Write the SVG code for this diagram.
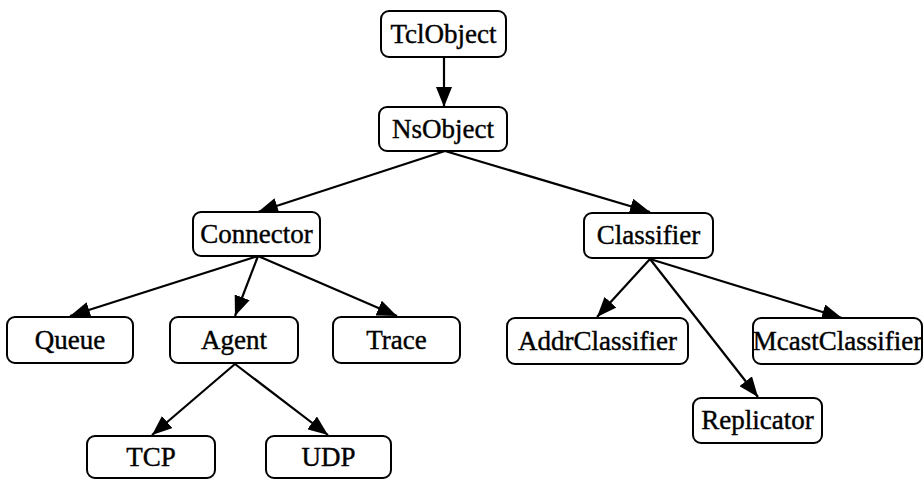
<svg xmlns="http://www.w3.org/2000/svg" width="924" height="481" viewBox="0 0 924 481">
<style>
.box{fill:#fff;stroke:#000;stroke-width:2}
.lbl{font-family:"Liberation Serif","Times New Roman",serif;font-size:27px;fill:#000;stroke:#000;stroke-width:0.4;text-anchor:middle}
.edge{stroke:#000;stroke-width:2.2;fill:none;marker-end:url(#arr)}
</style>
<defs>
<marker id="arr" markerUnits="userSpaceOnUse" markerWidth="21" markerHeight="16" refX="20" refY="8" orient="auto">
<path d="M0,0 L20,8 L0,16 Z" fill="#000"/>
</marker>
</defs>
<rect width="924" height="481" fill="#fff"/>
<g id="connectors">
<line class="edge" x1="444" y1="57" x2="444" y2="107"/>
<line class="edge" x1="445" y1="151" x2="258" y2="212"/>
<line class="edge" x1="445" y1="151" x2="650" y2="212"/>
<line class="edge" x1="258" y1="256" x2="70" y2="316"/>
<line class="edge" x1="258" y1="256" x2="235" y2="316"/>
<line class="edge" x1="258" y1="256" x2="397" y2="316"/>
<line class="edge" x1="235" y1="364" x2="152" y2="435"/>
<line class="edge" x1="235" y1="364" x2="328" y2="435"/>
<line class="edge" x1="650" y1="259" x2="597" y2="317"/>
<line class="edge" x1="650" y1="259" x2="758" y2="397"/>
<line class="edge" x1="650" y1="259" x2="842" y2="318"/>
</g>
<g id="TclObject"><rect class="box" x="381" y="11" width="125" height="46" rx="8"/><text class="lbl" x="443.5" y="43">TclObject</text></g>
<g id="NsObject"><rect class="box" x="379" y="107" width="128" height="44" rx="8"/><text class="lbl" x="443" y="138">NsObject</text></g>
<g id="Connector"><rect class="box" x="193" y="212" width="127" height="44" rx="8"/><text class="lbl" x="256.5" y="243">Connector</text></g>
<g id="Classifier"><rect class="box" x="584" y="213" width="129" height="45" rx="8"/><text class="lbl" x="648.5" y="244">Classifier</text></g>
<g id="Queue"><rect class="box" x="7" y="317" width="126" height="46" rx="8"/><text class="lbl" x="70" y="349">Queue</text></g>
<g id="Agent"><rect class="box" x="170" y="317" width="128" height="46" rx="8"/><text class="lbl" x="234" y="349">Agent</text></g>
<g id="Trace"><rect class="box" x="333" y="317" width="127" height="46" rx="8"/><text class="lbl" x="396.5" y="349">Trace</text></g>
<g id="AddrClassifier"><rect class="box" x="507" y="318" width="181" height="46" rx="8"/><text class="lbl" x="597.5" y="350">AddrClassifier</text></g>
<g id="McastClassifier"><rect class="box" x="753" y="318" width="169" height="46" rx="8"/><text class="lbl" x="837.5" y="350">McastClassifier</text></g>
<g id="Replicator"><rect class="box" x="693" y="398" width="129" height="45" rx="8"/><text class="lbl" x="757.5" y="429">Replicator</text></g>
<g id="TCP"><rect class="box" x="87" y="436" width="128" height="42" rx="8"/><text class="lbl" x="151" y="466">TCP</text></g>
<g id="UDP"><rect class="box" x="266" y="436" width="125" height="42" rx="8"/><text class="lbl" x="328.5" y="466">UDP</text></g>
</svg>
